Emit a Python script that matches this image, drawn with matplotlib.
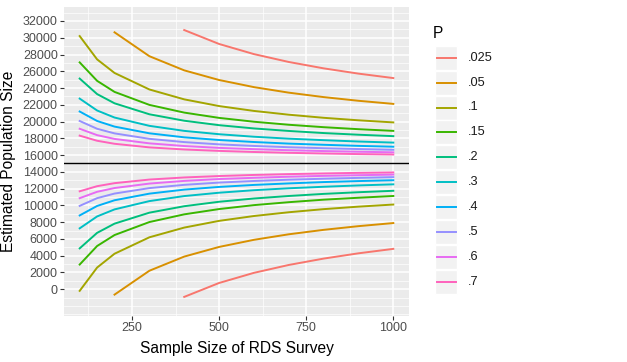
import matplotlib.pyplot as plt
from matplotlib.ticker import MultipleLocator
from matplotlib.patches import Rectangle

plt.rcParams['font.family'] = ['Liberation Sans', 'DejaVu Sans']

# sample sizes of the RDS survey
n_all = [100, 150, 200, 300, 400, 500, 600, 700, 800, 900, 1000]
n_05 = n_all[2:]
n_025 = n_all[4:]

true_size = 15000

# upper / lower estimates, one pair per P
upper_025 = [30920, 29260, 28050, 27110, 26350, 25720, 25190]
lower_025 = [-920, 740, 1950, 2890, 3650, 4280, 4810]
upper_05 = [30650, 27800, 26110, 24960, 24110, 23450, 22920, 22480, 22110]
lower_05 = [-650, 2200, 3890, 5040, 5890, 6550, 7080, 7520, 7890]
upper_1 = [30200, 27420, 25800, 23830, 22650, 21850, 21270, 20820, 20450, 20150, 19900]
lower_1 = [-200, 2580, 4230, 6190, 7350, 8150, 8730, 9180, 9550, 9850, 10100]
upper_15 = [27060, 24860, 23540, 21990, 21070, 20440, 19980, 19620, 19330, 19090, 18890]
lower_15 = [2940, 5150, 6460, 8010, 8930, 9560, 10030, 10380, 10680, 10910, 11120]
upper_2 = [25130, 23280, 22180, 20870, 20100, 19570, 19180, 18880, 18630, 18430, 18260]
lower_2 = [4870, 6720, 7820, 9130, 9900, 10430, 10820, 11120, 11370, 11570, 11740]
upper_3 = [22740, 21320, 20480, 19490, 18890, 18490, 18190, 17960, 17780, 17620, 17490]
lower_3 = [7260, 8680, 9520, 10510, 11110, 11510, 11810, 12040, 12220, 12380, 12510]
upper_4 = [21200, 20070, 19400, 18600, 18120, 17800, 17560, 17370, 17230, 17100, 17000]
lower_4 = [8800, 9930, 10610, 11400, 11880, 12200, 12440, 12620, 12780, 12900, 13000]
upper_5 = [20070, 19140, 18590, 17940, 17550, 17280, 17090, 16940, 16820, 16720, 16630]
lower_5 = [9940, 10860, 11410, 12060, 12450, 12720, 12910, 13060, 13180, 13280, 13370]
upper_6 = [19140, 18380, 17930, 17400, 17080, 16860, 16710, 16580, 16480, 16400, 16330]
lower_6 = [10860, 11620, 12070, 12600, 12920, 13140, 13290, 13420, 13520, 13600, 13670]
upper_7 = [18320, 17710, 17350, 16920, 16670, 16500, 16370, 16270, 16190, 16120, 16070]
lower_7 = [11680, 12290, 12650, 13080, 13330, 13500, 13630, 13730, 13810, 13880, 13930]

p_labels = [".025", ".05", ".1", ".15", ".2", ".3", ".4", ".5", ".6", ".7"]
colors = ["#F8766D", "#D89000", "#A3A500", "#39B600", "#00BF7D",
          "#00BFC4", "#00B0F6", "#9590FF", "#E76BF3", "#FF62BC"]

series = [
    (n_025, upper_025, lower_025),
    (n_05, upper_05, lower_05),
    (n_all, upper_1, lower_1),
    (n_all, upper_15, lower_15),
    (n_all, upper_2, lower_2),
    (n_all, upper_3, lower_3),
    (n_all, upper_4, lower_4),
    (n_all, upper_5, lower_5),
    (n_all, upper_6, lower_6),
    (n_all, upper_7, lower_7),
]

fig = plt.figure(figsize=(6.27, 3.62), dpi=100)
ax = fig.add_axes([64 / 627, 1 - 316 / 362, 345 / 627, 309 / 362])
ax.set_facecolor("#EBEBEB")

for (x, hi, lo), c in zip(series, colors):
    ax.plot(x, hi, color=c, lw=1.4, zorder=3)
    ax.plot(x, lo, color=c, lw=1.4, zorder=3)

ax.axhline(true_size, color="black", lw=1.0, zorder=4)

ax.set_xlim(55, 1045)
ax.set_ylim(-3200, 33670)
ax.set_xticks([250, 500, 750, 1000])
ax.set_yticks(range(0, 32001, 2000))
ax.xaxis.set_minor_locator(MultipleLocator(125))
ax.yaxis.set_minor_locator(MultipleLocator(1000))
ax.grid(which="major", color="white", lw=1.1)
ax.grid(which="minor", color="white", lw=0.5)
ax.set_axisbelow(True)
for s in ax.spines.values():
    s.set_visible(False)
ax.tick_params(which="major", length=3, width=0.8, color="#333333",
               labelsize=9, labelcolor="#4D4D4D", pad=1.5)
ax.tick_params(which="minor", length=0)

ax.set_xlabel("Sample Size of RDS Survey", fontsize=11.2, labelpad=5)
ax.set_ylabel("Estimated Population Size", fontsize=11.2, labelpad=5)

# legend drawn in pixel coordinates
lax = fig.add_axes([0, 0, 1, 1], zorder=5)
lax.set_xlim(0, 627)
lax.set_ylim(362, 0)
lax.axis("off")
lax.text(433, 34, "P", fontsize=11.2, va="center", ha="left")
for i, (lab, c) in enumerate(zip(p_labels, colors)):
    yc = 57.7 + i * 24.9
    lax.add_patch(Rectangle((435, yc - 12), 22, 24, facecolor="#F2F2F2",
                            edgecolor="white", lw=1))
    lax.plot([436.5, 455.5], [yc, yc], color=c, lw=1.4)
    lax.text(468, yc, lab, fontsize=9.2, va="center", ha="left", color="#1A1A1A")

fig.savefig("out.png", dpi=100)
